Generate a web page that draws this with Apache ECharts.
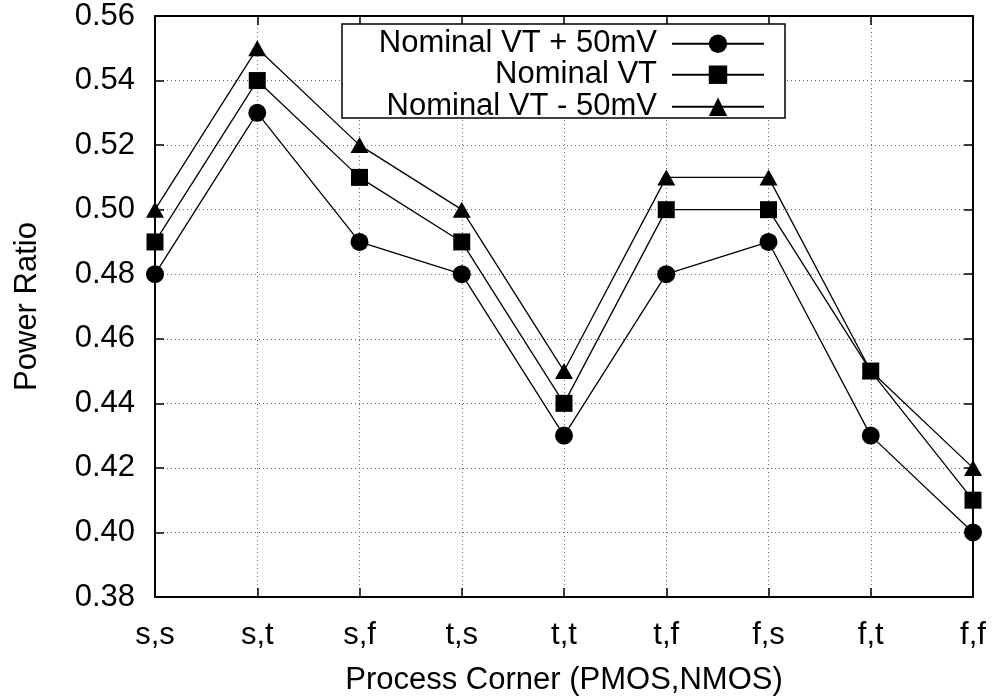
<!DOCTYPE html>
<html>
<head>
    <title>Power Ratio vs Process Corner</title>
    <script src="https://cdn.jsdelivr.net/npm/echarts@6/dist/echarts.min.js"></script>
    <style>
        html, body { margin: 0; padding: 0; background: #fff; }
        #chart { width: 992px; height: 698px; }
    </style>
</head>
<body>
    <div id="chart"></div>

    <script>
    // data
    const corners = ['s,s', 's,t', 's,f', 't,s', 't,t', 't,f', 'f,s', 'f,t', 'f,f'];
    const vtPlus50 = [0.48, 0.53, 0.49, 0.48, 0.43, 0.48, 0.49, 0.43, 0.40];
    const vtNominal = [0.49, 0.54, 0.51, 0.49, 0.44, 0.50, 0.50, 0.45, 0.41];
    const vtMinus50 = [0.50, 0.55, 0.52, 0.50, 0.45, 0.51, 0.51, 0.45, 0.42];
    const seriesNames = ['Nominal VT + 50mV', 'Nominal VT', 'Nominal VT - 50mV'];

    const FONT = "'Liberation Sans', Arial, Helvetica, sans-serif";
    const FS = 31;
    const chart = echarts.init(document.getElementById('chart'));

    const gridLine = { show: true, lineStyle: { color: '#666', type: [1, 3], width: 1 } };
    const axisLine = { show: true, onZero: false, lineStyle: { color: '#000', width: 2 } };
    const tick = { show: true, inside: true, length: 9, lineStyle: { color: '#000', width: 1.5 } };

    function makeLine(name, data, symbol, size) {
        return {
            name: name,
            type: 'line',
            data: data,
            symbol: symbol,
            symbolSize: size,
            showAllSymbol: true,
            lineStyle: { color: '#000', width: 1.3 },
            itemStyle: { color: '#000' },
            emphasis: { disabled: true },
            animation: false,
            z: 3
        };
    }

    // one legend per row so the icons line up on the right like gnuplot
    function makeLegend(name, top) {
        return {
            data: [name],
            orient: 'vertical',
            right: 227,
            top: top,
            align: 'right',
            padding: 0,
            itemWidth: 92,
            itemHeight: 23,
            selectedMode: false,
            z: 10,
            textStyle: {
                fontFamily: FONT,
                fontSize: FS,
                lineHeight: FS,
                color: '#000',
                padding: [0, 10, 0, 0]
            }
        };
    }

    chart.setOption({
        backgroundColor: '#fff',
        textStyle: { fontFamily: FONT },
        grid: { left: 155, right: 19, top: 16, bottom: 101, containLabel: false, outerBoundsMode: 'none' },
        legend: [
            makeLegend(seriesNames[0], 17),
            makeLegend(seriesNames[1], 48),
            makeLegend(seriesNames[2], 80)
        ],
        graphic: [{
            type: 'rect',
            z: 5,
            shape: { x: 342, y: 24, width: 443, height: 94 },
            style: { fill: '#fff', stroke: '#000', lineWidth: 1.5 }
        }],
        xAxis: [{
            type: 'category',
            data: corners,
            boundaryGap: false,
            name: 'Process Corner (PMOS,NMOS)',
            nameLocation: 'middle',
            nameGap: 57,
            nameMoveOverlap: false,
            nameTextStyle: { fontFamily: FONT, fontSize: FS, color: '#000' },
            axisLine: axisLine,
            axisTick: tick,
            axisLabel: { fontFamily: FONT, fontSize: FS, color: '#000', margin: 12 },
            splitLine: gridLine
        }, {
            type: 'category',
            data: corners,
            boundaryGap: false,
            position: 'top',
            axisLine: axisLine,
            axisTick: tick,
            axisLabel: { show: false },
            splitLine: { show: false }
        }],
        yAxis: [{
            type: 'value',
            min: 0.38,
            max: 0.56,
            interval: 0.02,
            name: 'Power Ratio',
            nameLocation: 'middle',
            nameGap: 101,
            nameMoveOverlap: false,
            nameTextStyle: { fontFamily: FONT, fontSize: FS, color: '#000' },
            axisLine: axisLine,
            axisTick: tick,
            axisLabel: {
                fontFamily: FONT, fontSize: FS, color: '#000', margin: 20,
                formatter: v => v.toFixed(2)
            },
            splitLine: gridLine
        }, {
            type: 'value',
            min: 0.38,
            max: 0.56,
            interval: 0.02,
            position: 'right',
            axisLine: axisLine,
            axisTick: tick,
            axisLabel: { show: false },
            splitLine: { show: false }
        }],
        series: [
            makeLine(seriesNames[0], vtPlus50, 'circle', 18),
            makeLine(seriesNames[1], vtNominal, 'rect', 17),
            makeLine(seriesNames[2], vtMinus50, 'triangle', [18, 16])
        ]
    });
    </script>
</body>
</html>
